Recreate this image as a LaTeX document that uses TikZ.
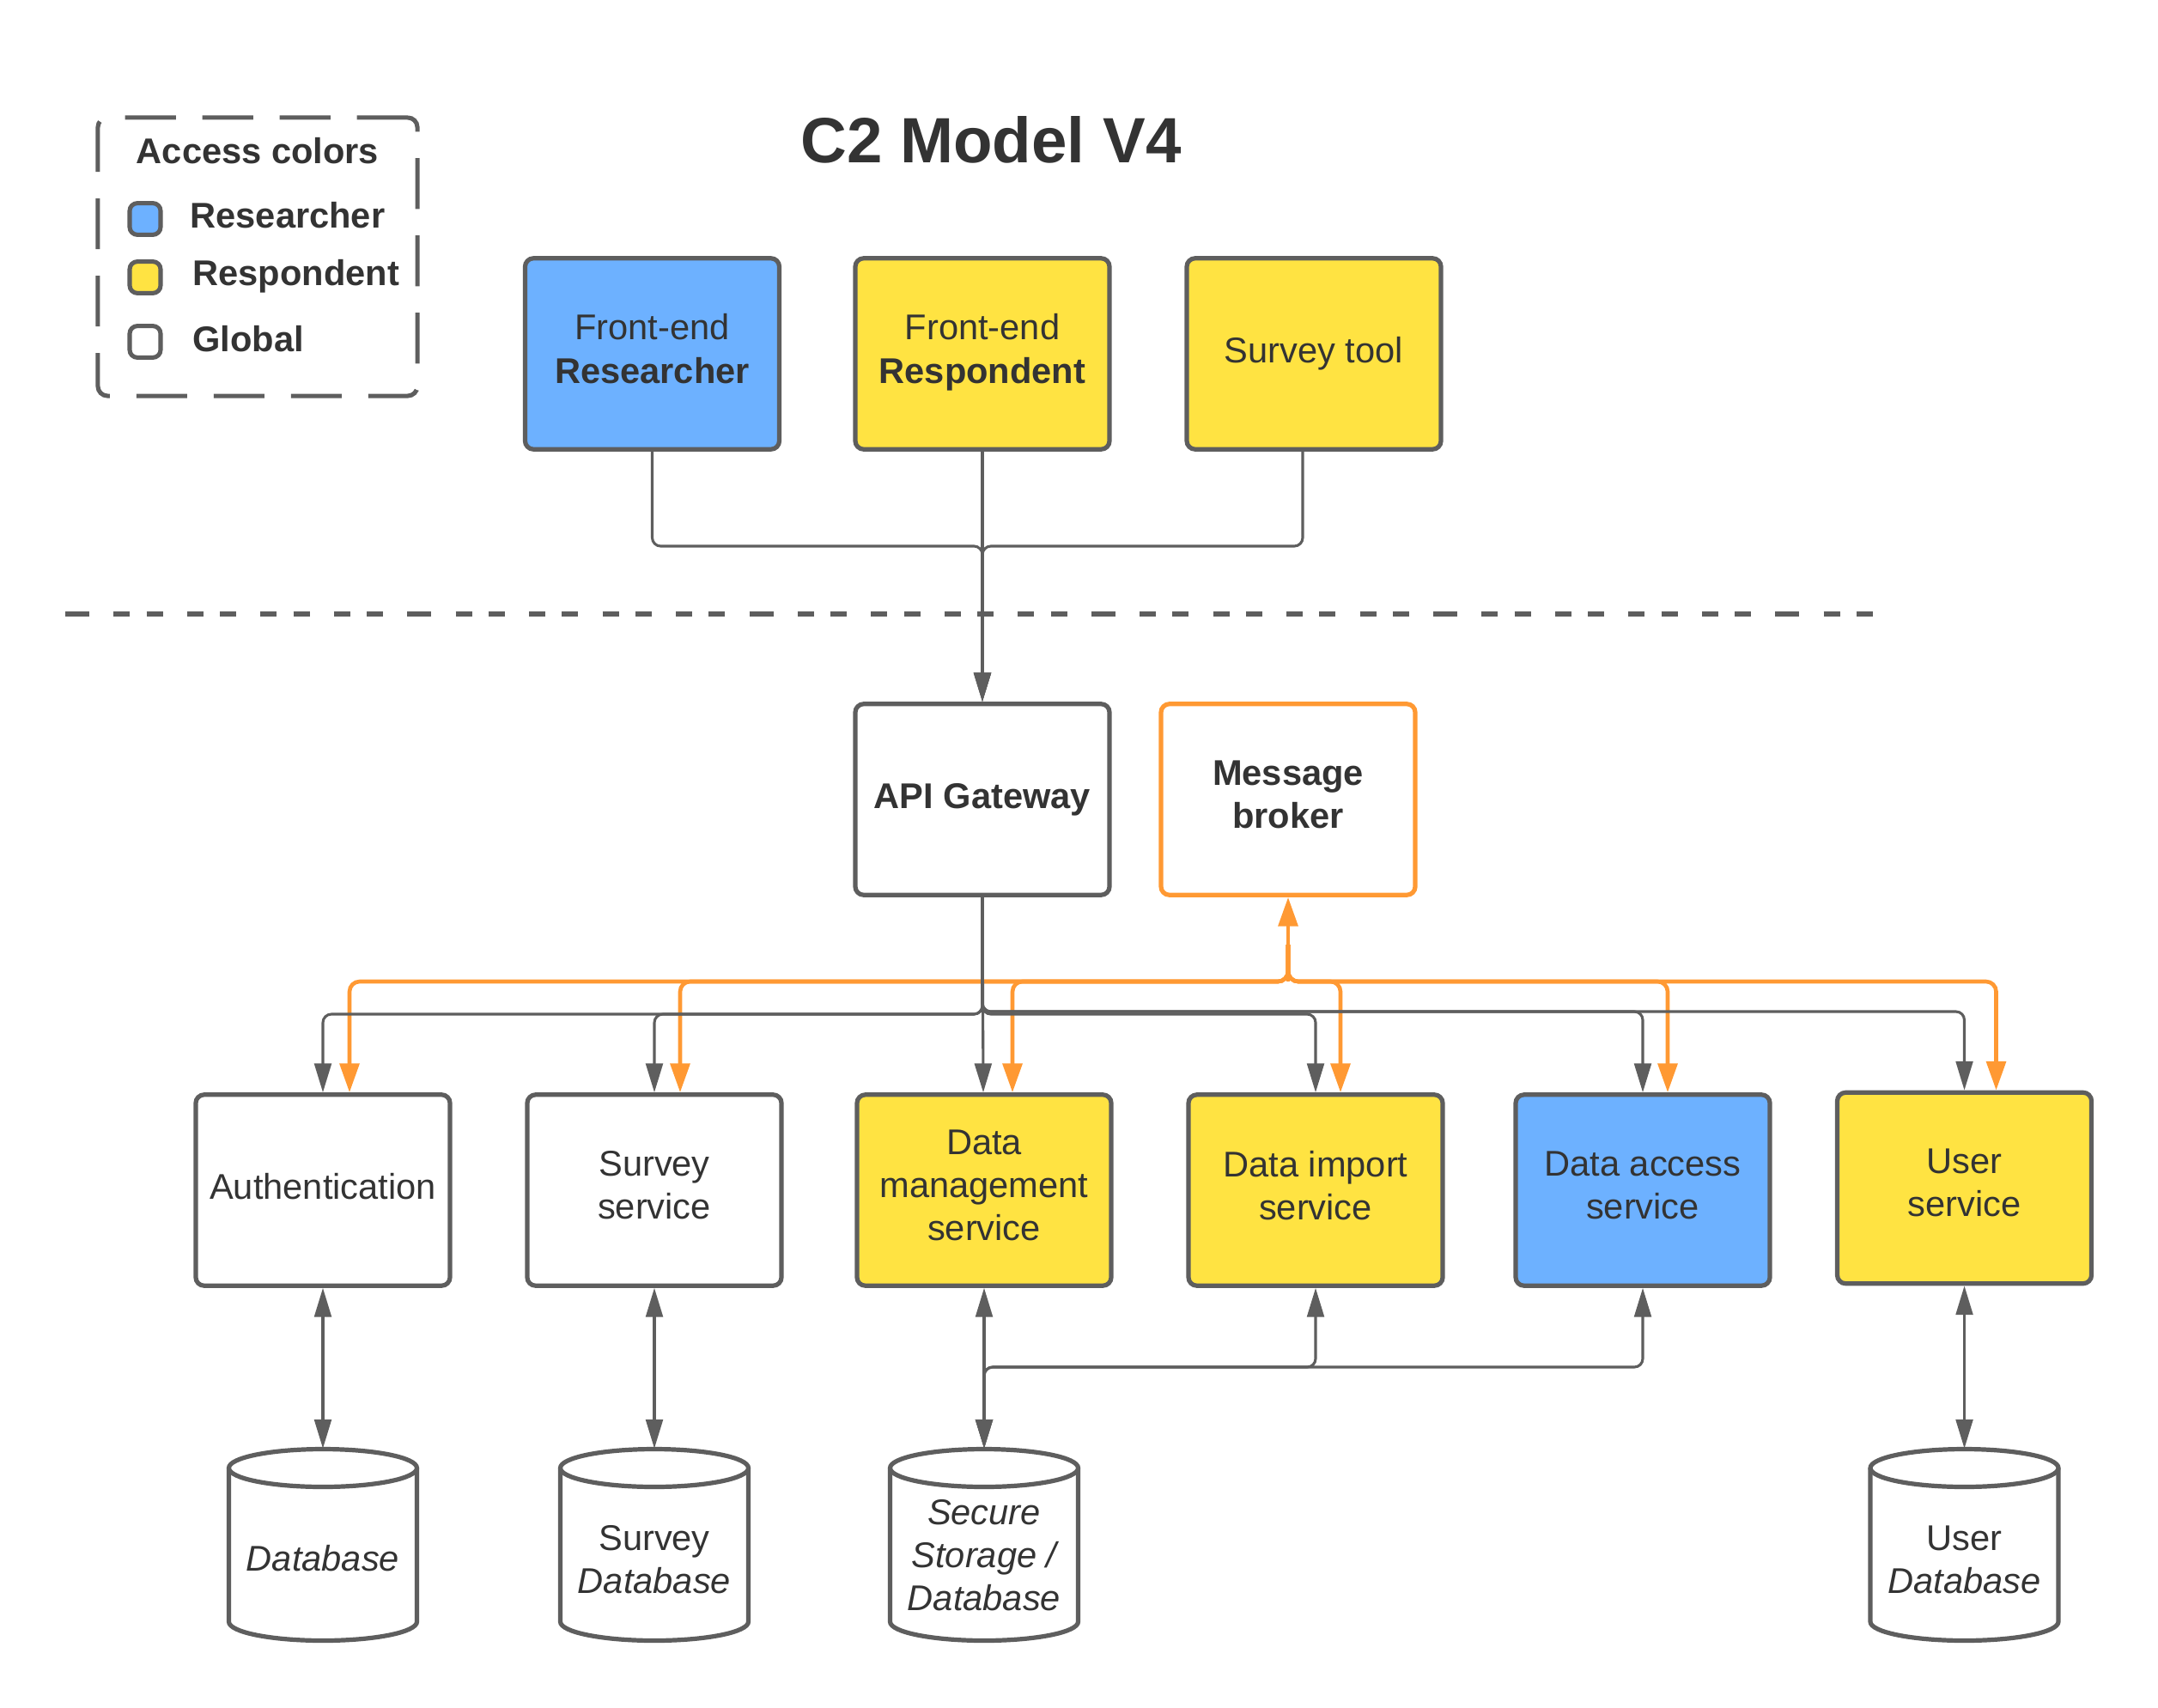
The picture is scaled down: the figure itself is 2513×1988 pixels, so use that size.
\documentclass[tikz,border=0pt]{standalone}
\usepackage{fontspec}
\setmainfont{Liberation Sans}
\usetikzlibrary{arrows.meta,calc}
\definecolor{lblue}{HTML}{6DB1FF}
\definecolor{lyel}{HTML}{FFE342}
\definecolor{lgray}{HTML}{5E5E5E}
\definecolor{lorange}{HTML}{FF9933}
\definecolor{ltext}{HTML}{333333}
\newcommand{\dbcyl}[5]{%
  \node[dbbox] (#1) at (#2,1799) {};
  \draw[cylst] (#2-109.5,1709.5) -- (#2-109.5,1888.5) arc[start angle=180,end angle=0,x radius=109.5,y radius=22] -- (#2+109.5,1709.5);
  \draw[cylst] (#2,1709.5) ellipse[x radius=109.5,y radius=22];
  \node[dbtext] (#1-l) at (#2,#3) {#4};
}
\begin{document}
\begin{tikzpicture}[x=0.0125cm,y=-0.0125cm,
  txt/.style={text=ltext,font=\fontsize{14.8}{17.8}\selectfont,align=center,inner sep=0pt},
  box/.style={txt,draw=lgray,line width=1.85pt,rounded corners=3.5pt,minimum width=3.7cm,minimum height=2.78cm,
    execute at begin node={\rule{0pt}{12.1pt}},execute at end node={\rule[-4.3pt]{0pt}{0pt}}},
  swatch/.style={draw=lgray,line width=1.8pt,rounded corners=3.2pt,minimum width=0.45cm,minimum height=0.46cm,inner sep=0pt},
  gtip/.tip={Triangle[length=12pt,width=7pt]},
  otip/.tip={Triangle[length=12pt,width=8pt]},
  gconn/.style={draw=lgray,line width=1.1pt,rounded corners=3.5pt,-gtip},
  gboth/.style={draw=lgray,line width=1.1pt,rounded corners=3.5pt,gtip-gtip},
  oconn/.style={draw=lorange,line width=1.65pt,rounded corners=4.2pt,-otip},
  cylst/.style={draw=lgray,fill=white,line width=1.85pt},
  dbbox/.style={minimum width=2.74cm,minimum height=2.79cm,inner sep=0pt},
  dbtext/.style={txt,font=\fontsize{14.8}{17.8}\selectfont\itshape}
]
\useasboundingbox (0,0) rectangle (2513,1988);

% legend
\node[draw=lgray,line width=1.8pt,dash pattern=on 21pt off 11pt,rounded corners=4pt,minimum width=4.65cm,minimum height=4.05cm] (legend) at (300,299) {};
\node[txt,font=\fontsize{14.8}{17.8}\selectfont\bfseries,anchor=base] (legtitle) at (300,191) {Access colors};
\node[swatch,fill=lblue] (sw1) at (169,255) {};
\node[swatch,fill=lyel] (sw2) at (169,323) {};
\node[swatch,fill=white] (sw3) at (169,398) {};
\node[txt,font=\fontsize{14.8}{17.8}\selectfont\bfseries,anchor=base west] (lab1) at (221,266) {Researcher};
\node[txt,font=\fontsize{14.8}{17.8}\selectfont\bfseries,anchor=base west] (lab2) at (224,333) {Respondent};
\node[txt,font=\fontsize{14.8}{17.8}\selectfont\bfseries,anchor=base west] (lab3) at (224,410) {Global};

% title
\node[txt,font=\fontsize{26.5}{30}\selectfont\bfseries,anchor=base] (title) at (1154,190) {C2 Model V4};

% top boxes
\node[box,fill=lblue] (fer) at (759.5,412) {Front-end\\\textbf{Researcher}};
\node[box,fill=lyel] (ferp) at (1144,412) {Front-end\\\textbf{Respondent}};
\node[box,fill=lyel] (fst) at (1530,412) {Survey tool};

% separator
\coordinate (sepL) at (76,715);
\coordinate (sepR) at (2193,715);
\draw[lgray,line width=1.8pt,dash pattern=on 10pt off 10pt on 6.8pt off 6.8pt on 6.8pt off 10pt on 6.8pt off 6.8pt on 6.8pt off 10pt on 6.8pt off 6.8pt on 6.8pt off 10pt on 6.8pt off 6.8pt on 6.8pt off 10pt] (sepL) -- (sepR);

% middle
\node[box,fill=white] (api) at (1144,931) {\textbf{API Gateway}};
\node[box,fill=white,draw=lorange] (broker) at (1500,931) {\textbf{Message}\\\textbf{broker}};

% bottom services
\node[box,fill=white] (auth) at (376,1386) {Authentication};
\node[box,fill=white] (surv) at (762,1386) {Survey\\service};
\node[box,fill=lyel] (dm) at (1146,1386) {Data\\management\\service};
\node[box,fill=lyel] (di) at (1532,1386) {Data import\\service};
\node[box,fill=lblue] (da) at (1913,1386) {Data access\\service};
\node[box,fill=lyel] (us) at (2287.5,1383.5) {User\\service};

% databases
\dbcyl{db1}{376}{1815}{Database}{}
\dbcyl{db2}{762}{1816}{\upshape Survey\\Database}{}
\dbcyl{db3}{1146}{1811}{Secure\\Storage /\\Database}{}
\dbcyl{db4}{2287.5}{1816}{\upshape User\\Database}{}

% top connectors
\coordinate (j1) at (1144,636);
\draw[gconn] (fer.south) |- (j1) -- (api.north);
\draw[gconn] ($(fst.south)+(-13,0)$) |- (j1) -- (api.north);
\draw[gconn] (ferp.south) -- (api.north);

% orange connectors
\coordinate (ob) at (1500,1143);
\coordinate (ob0) at (1500,1100);
\draw[oconn] (ob) -- (broker.south);
\draw[oconn] (ob0) -- (ob) -| ($(auth.north)+(31,0)$);
\draw[oconn] (ob0) -- (ob) -| ($(surv.north)+(30,0)$);
\draw[oconn] (ob0) -- (ob) -| ($(dm.north)+(33,0)$);
\draw[oconn] (ob0) -- (ob) -| ($(di.north)+(29,0)$);
\draw[oconn] (ob0) -- (ob) -| ($(da.north)+(29,0)$);
\draw[oconn] (ob0) -- (ob) -| ($(us.north)+(37,0)$);

% gray connectors from API gateway
\draw[gconn] (api.south) -- (1144,1181) -| (auth.north);
\draw[gconn] (api.south) -- (1144,1181) -| (surv.north);
\draw[gconn] (api.south) -- ($(dm.north)+(-1,0)$);
\draw[gconn] (api.south) -- (1144,1181) -| (di.north);
\draw[gconn] (api.south) -- (1144,1178) -| (da.north);
\draw[gconn] (api.south) -- (1144,1178) -| (us.north);

% service <-> database
\draw[gboth] (auth.south) -- (db1.north);
\draw[gboth] (surv.south) -- (db2.north);
\draw[gboth] (dm.south) -- (db3.north);
\draw[gboth] (di.south) -- (1532,1592) -| (db3.north);
\draw[gboth] (da.south) -- (1913,1592) -| (db3.north);
\draw[gboth] (us.south) -- (db4.north);
\end{tikzpicture}
\end{document}
